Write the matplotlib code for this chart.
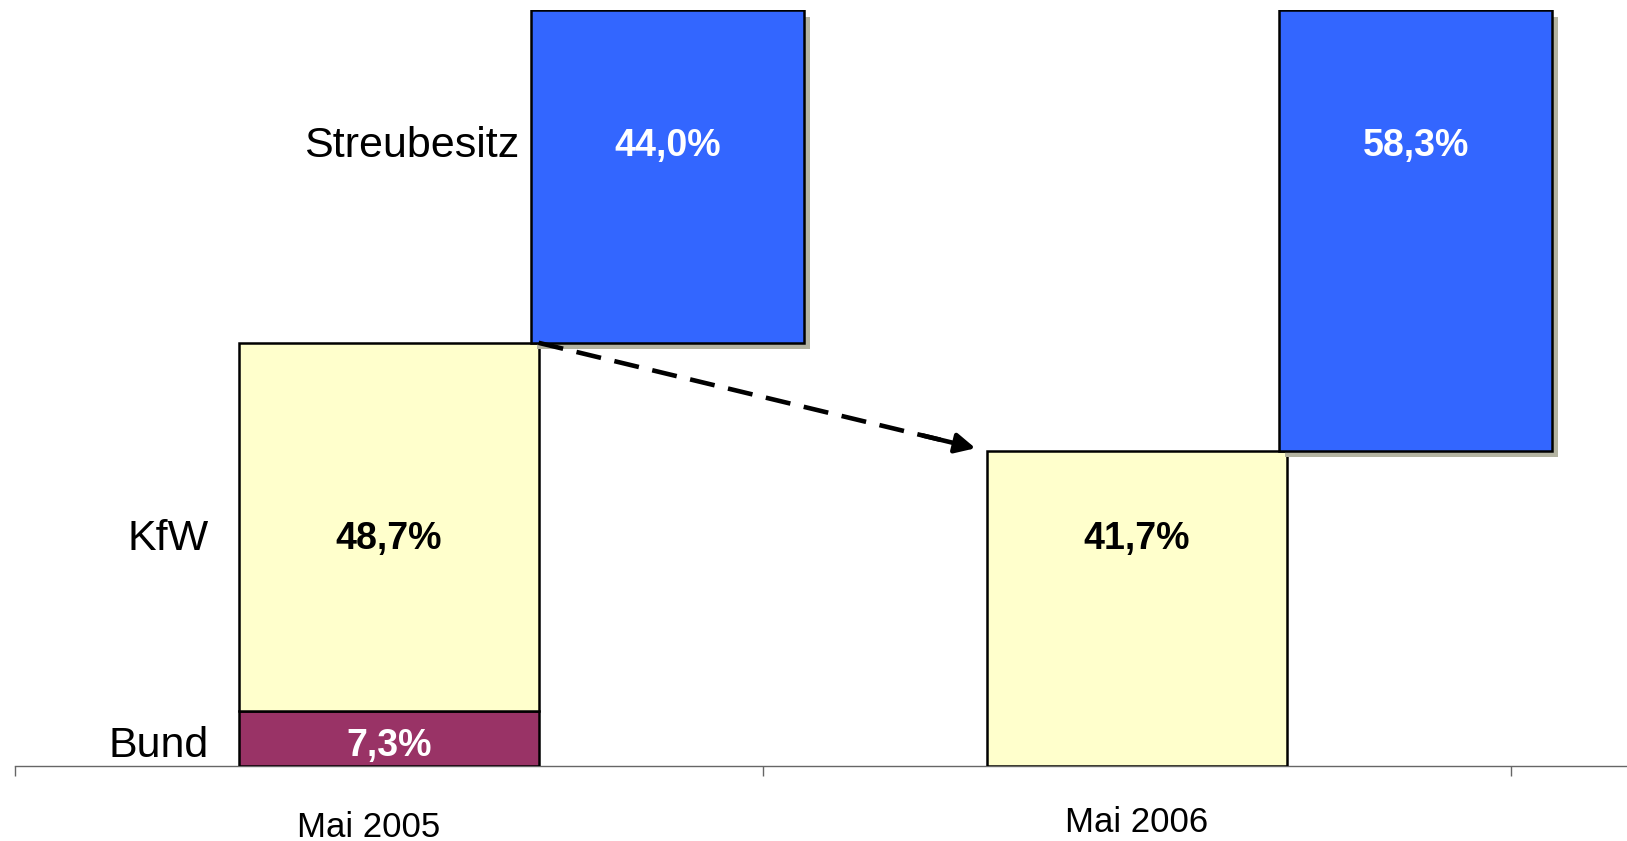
import matplotlib
matplotlib.use("Agg")
import matplotlib.pyplot as plt
import matplotlib.patheffects as pe

# ---------------------------------------------------------
# DATA
# ---------------------------------------------------------
categories = ["Mai 2005", "Mai 2006"]
bund = [7.3, 0.0]
kfw = [48.7, 41.7]
streubesitz = [44.0, 58.3]

row_names = ["Streubesitz", "KfW", "Bund"]

# ---------------------------------------------------------
# STYLE / LAYOUT
# ---------------------------------------------------------
plt.rcParams["font.family"] = ["Liberation Sans", "DejaVu Sans"]

col_bund = "#993366"
col_kfw = "#FFFFCC"
col_streu = "#3366FF"
col_shadow = "#B3B3A1"

w_main = 0.40          # Bund/KfW bar width
w_streu = 0.365        # Streubesitz bar width
off_streu = 0.3725     # Streubesitz offset right of category

row_y = {"Streubesitz": 82.1, "KfW": 30.0, "Bund": 2.7}
row_label_x = {"Streubesitz": 0.174, "KfW": -0.241, "Bund": -0.241}


def pct(v):
    return f"{v:.1f}%".replace(".", ",")


fig = plt.figure(figsize=(16.27, 8.41), dpi=100)
ax = fig.add_axes([15 / 1627, 0.0892, 1 - 15 / 1627, 0.8985])

x = list(range(len(categories)))

# Bund (bottom)
for i, v in enumerate(bund):
    if v > 0:
        ax.bar(x[i], v, width=w_main, color=col_bund, edgecolor="black", lw=1.8, zorder=3)
        ax.text(x[i], row_y["Bund"], pct(v), ha="center", va="center",
                color="white", fontsize=27, fontweight="bold", zorder=5)

# KfW (stacked on Bund)
for i, v in enumerate(kfw):
    ax.bar(x[i], v, bottom=bund[i], width=w_main, color=col_kfw,
           edgecolor="black", lw=1.8, zorder=3)
    ax.text(x[i], row_y["KfW"], pct(v), ha="center", va="center",
            color="black", fontsize=27, fontweight="bold", zorder=5)

# Streubesitz (floating, offset to the right, with shadow)
shadow = [pe.SimplePatchShadow(offset=(4.5, -4.5), shadow_rgbFace=col_shadow, alpha=1.0),
          pe.Normal()]
for i, v in enumerate(streubesitz):
    base = bund[i] + kfw[i]
    ax.bar(x[i] + off_streu, v, bottom=base, width=w_streu, color=col_streu,
           edgecolor="black", lw=1.8, zorder=4, path_effects=shadow)
    ax.text(x[i] + off_streu, row_y["Streubesitz"], pct(v), ha="center", va="center",
            color="white", fontsize=27, fontweight="bold", zorder=5)

# row labels on the left
for name in row_names:
    ax.text(row_label_x[name], row_y[name], name, ha="right", va="center",
            fontsize=31, color="black")

# dashed arrow: KfW 2005 top -> KfW 2006 top
x0, y0 = x[0] + w_main / 2, bund[0] + kfw[0]
x1, y1 = x[1] - w_main / 2 - 0.016, bund[1] + kfw[1] + 0.35
frac = 0.92
ax.plot([x0, x0 + (x1 - x0) * frac], [y0, y0 + (y1 - y0) * frac],
        color="black", lw=3.3, dashes=(5.5, 3), zorder=6, solid_capstyle="butt")
ax.annotate("", xy=(x1, y1), xytext=(x0 + (x1 - x0) * 0.88, y0 + (y1 - y0) * 0.88),
            arrowprops=dict(arrowstyle="-|>", color="black", lw=3.3, mutation_scale=30,
                            shrinkA=0, shrinkB=0), zorder=6)

# category labels
label_dx = [-0.027, 0.0]
label_dy = [-44, -41]
for i, c in enumerate(categories):
    ax.annotate(c, xy=(x[i] + label_dx[i], 0), xytext=(0, label_dy[i]), textcoords="offset points",
                ha="center", va="center", fontsize=25, annotation_clip=False)

ax.set_xlim(-0.5, 1.655)
ax.set_ylim(0, 100)
for s in ["top", "right", "left"]:
    ax.spines[s].set_visible(False)
ax.spines["bottom"].set_color("#666666")
ax.spines["bottom"].set_linewidth(1.0)
ax.set_yticks([])
ax.set_xticks([-0.5, 0.5, 1.5])
ax.set_xticklabels([])
ax.tick_params(axis="x", direction="out", length=7, width=1.0, color="#666666")

fig.savefig("out.png", dpi=100)
